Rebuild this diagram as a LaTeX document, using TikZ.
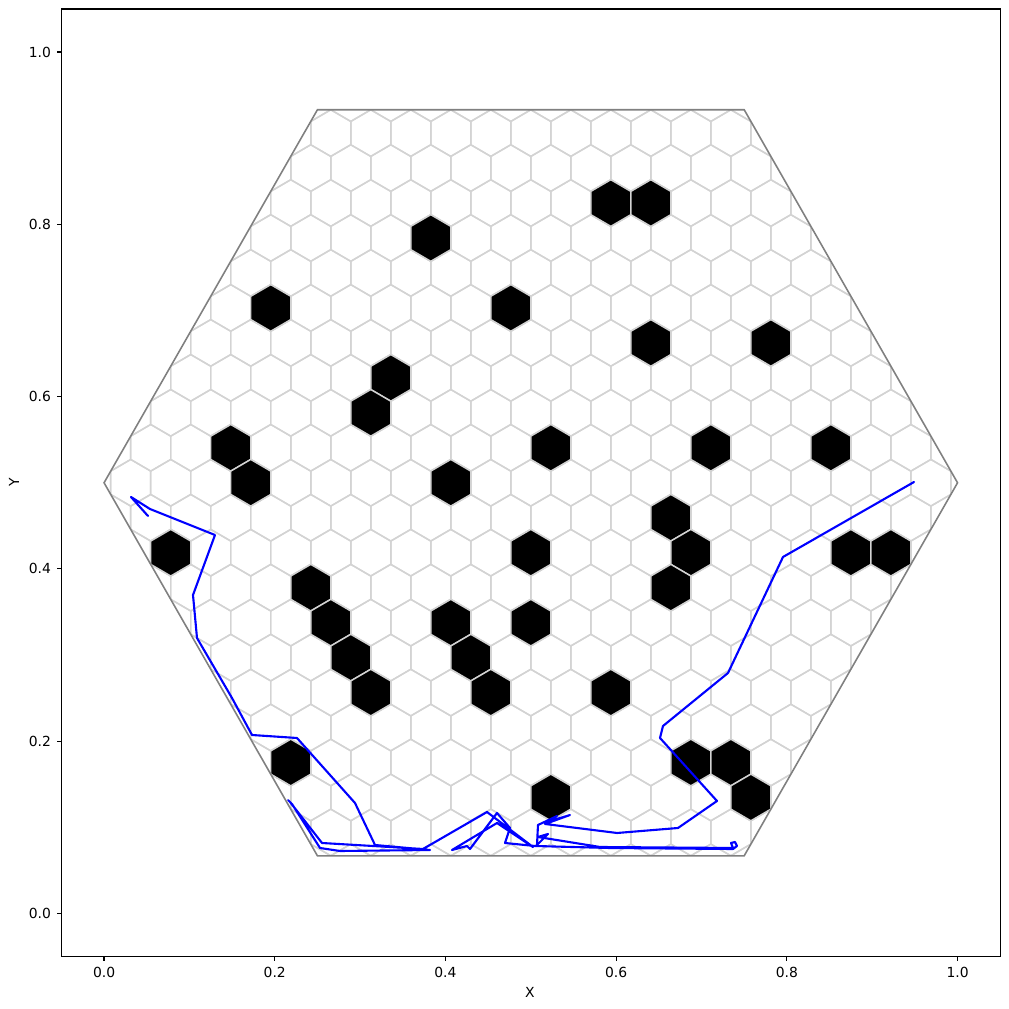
\documentclass[tikz,border=0pt]{standalone}
\usepackage{fontspec}
\setmainfont{DejaVu Sans}
\definecolor{mpllightgray}{RGB}{211,211,211}
\definecolor{mplgray}{RGB}{128,128,128}
\begin{document}
\begin{tikzpicture}[x=8.53cm,y=8.61cm,
  gridline/.style={draw=mpllightgray,line width=0.42pt},
  blackhex/.style={fill=black,draw=mpllightgray,line width=0.42pt},
  bighex/.style={draw=mplgray,line width=0.45pt},
  traj/.style={draw=blue,line width=0.6pt,line join=round,line cap=round},
  spine/.style={draw=black,line width=0.32pt},
  ticklab/.style={inner sep=0pt,font=\fontsize{3.95pt}{4.7pt}\selectfont},
]
\def\hw{0.0234375}
\def\hr{0.0135316}
\def\rr{0.0270633}
\newcommand\hexshape[3]{\path[#1] ({#2},{#3}) ++(\hw,\hr) -- ++(-\hw,\hr) -- ++(-\hw,-\hr) -- ++(0,-\rr) -- ++(\hw,-\hr) -- ++(\hw,\hr) -- cycle;}
% page frame in pixel units
\begin{scope}[shift={(-1.04cm,9.13cm)},x=0.01cm,y=-0.01cm]
\useasboundingbox (0,0) rectangle (1009,1009);
\end{scope}
% hex grid clipped to the big hexagon
\begin{scope}
\clip (0,0.5) -- (0.25,0.0669873) -- (0.75,0.0669873) -- (1,0.5) -- (0.75,0.9330127) -- (0.25,0.9330127) -- cycle;
\foreach \j in {-11,...,11}{
  \pgfmathsetmacro\xo{0.5*mod(abs(\j),2)}
  \foreach \k in {-12,...,12}{
    \hexshape{gridline}{0.5+(\k+\xo)*0.046875}{0.5+\j*0.0405949}
  }
}
\end{scope}
% obstacles
\foreach \j/\kk in {8/2, 8/3, 7/-2.5, 5/-6.5, 5/-0.5, 4/3, 4/6, 3/-3.5, 2/-4, 1/-7.5, 0/-7, 1/0.5, 1/4.5, 1/7.5, 0/-2, -1/3.5, -2/4, -3/3.5, -2/-9, -2/0, -2/8, -2/9, -3/-5.5, -4/-5, -5/-4.5, -6/-4, -4/-2, -5/-1.5, -6/-1, -4/0, -6/2, -8/-6, -8/4, -8/5, -9/5.5, -9/0.5}{
  \hexshape{blackhex}{0.5+\kk*0.046875}{0.5+\j*0.0405949}
}
% boundary
\draw[bighex] (0,0.5) -- (0.25,0.0669873) -- (0.75,0.0669873) -- (1,0.5) -- (0.75,0.9330127) -- (0.25,0.9330127) -- cycle;
% axes
\draw[spine] (-0.05,-0.05) rectangle (1.05,1.05);
\foreach \v/\t [count=\i] in {0/0.0,0.2/0.2,0.4/0.4,0.6/0.6,0.8/0.8,1/1.0}{
  \draw[spine] (\v,-0.05) -- ++(0,-1.38pt);
  \node[ticklab,anchor=north,yshift=-2.76pt] (xt\i) at (\v,-0.05) {\t};
  \draw[spine] (-0.05,\v) -- ++(-1.38pt,0);
  \node[ticklab,anchor=east,xshift=-2.76pt] (yt\i) at (-0.05,\v) {\t};
}
\begin{scope}[shift={(-1.04cm,9.13cm)},x=0.01cm,y=-0.01cm]
\node[ticklab] (xlab) at (530,992) {X};
\node[ticklab,rotate=90] (ylab) at (14,482) {Y};
\draw[traj] (914,482) -- (783,557) -- (728,673) -- (663,726) -- (660,738) -- (717,801) -- (678,828) -- (617,833) -- (545,824) -- (570,815) -- (547,822) -- (557,816) -- (538,825) -- (537,845) -- (548,834) -- (538,837) -- (600,847) -- (733,848) -- (731,843) -- (735,842) -- (737,846) -- (733,849) -- (610,848) -- (535,846) -- (505,843) -- (510,828) -- (497,813) -- (470,849) -- (467,846) -- (452,850) -- (497,823) -- (533,847) -- (487,812) -- (423,849) -- (390,847) -- (322,843) -- (290,802) -- (288,800) -- (292,804) -- (320,848) -- (340,851) -- (430,850) -- (375,845) -- (355,803) -- (297,738) -- (252,735) -- (232,698) -- (197,638) -- (193,595) -- (215,535) -- (150,509) -- (131,497) -- (148,516);
\end{scope}
\end{tikzpicture}
\end{document}
